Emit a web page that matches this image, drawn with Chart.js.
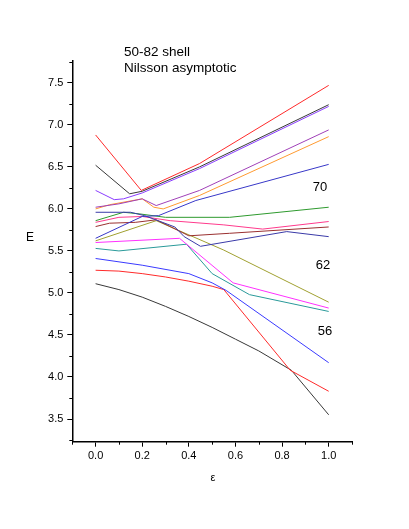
<!DOCTYPE html>
<html lang="en">
<head>
  <meta charset="UTF-8" />
  <title>50-82 shell | Nilsson asymptotic</title>
  <script src="https://cdn.jsdelivr.net/npm/chart.js"></script>
  <style>
    html, body { margin: 0; padding: 0; background: #fff; }
    canvas { display: block; }
  </style>
</head>
<body>
  <canvas id="nilssonChart" width="409" height="529"></canvas>

  <script>
    // single-particle levels, [eps, E] at the kinks
    const redTop   = [[0, 6.88], [0.196, 6.22], [0.446, 6.54], [1, 7.47]];
    const grayTop  = [[0, 6.52], [0.146, 6.18], [0.2, 6.21], [0.446, 6.50], [1, 7.24]];
    const violet   = [[0, 6.22], [0.08, 6.11], [0.12, 6.12], [0.2, 6.19], [0.446, 6.48], [1, 7.22]];
    const purple   = [[0, 6.02], [0.1, 6.06], [0.2, 6.12], [0.26, 6.04], [0.446, 6.22], [1, 6.94]];
    const orange   = [[0, 6.00], [0.06, 6.05], [0.2, 6.12], [0.25, 6.02], [0.29, 6.00], [0.446, 6.16], [1, 6.86]];
    const blueUp   = [[0, 5.65], [0.2, 5.91], [0.27, 5.92], [0.43, 6.10], [1, 6.53]];
    const navy     = [[0, 5.96], [0.15, 5.96], [0.21, 5.92], [0.34, 5.785], [0.38, 5.67], [0.45, 5.555], [0.82, 5.73], [1, 5.67]];
    const green    = [[0, 5.86], [0.12, 5.96], [0.19, 5.94], [0.3, 5.90], [0.575, 5.90], [1, 6.02]];
    const pink     = [[0, 5.84], [0.1, 5.90], [0.2, 5.91], [0.32, 5.86], [0.55, 5.81], [0.717, 5.76], [1, 5.85]];
    const brown    = [[0, 5.79], [0.06, 5.83], [0.17, 5.84], [0.26, 5.87], [0.32, 5.79], [0.4, 5.68], [0.575, 5.71], [1, 5.785]];
    const olive    = [[0, 5.62], [0.26, 5.86], [0.55, 5.51], [1, 4.89]];
    const magenta  = [[0, 5.60], [0.36, 5.65], [0.59, 5.12], [1, 4.82]];
    const teal     = [[0, 5.53], [0.1, 5.50], [0.39, 5.58], [0.5, 5.23], [0.66, 4.98], [1, 4.78]];
    const blueLow  = [[0, 5.41], [0.2, 5.33], [0.4, 5.23], [0.5, 5.12], [0.56, 5.03], [1, 4.17]];
    const redLow   = [[0, 5.27], [0.1, 5.26], [0.2, 5.23], [0.3, 5.19], [0.4, 5.14], [0.5, 5.08], [0.55, 5.04], [0.835, 4.08], [1, 3.83]];
    const grayLow  = [[0, 5.11], [0.1, 5.04], [0.2, 4.95], [0.3, 4.84], [0.4, 4.72], [0.5, 4.59], [0.6, 4.45], [0.7, 4.31], [0.84, 4.08], [1, 3.55]];

    // axis ticks
    const xMajor = [0, 0.2, 0.4, 0.6, 0.8, 1.0];
    const xMinor = [-0.1, 0.1, 0.3, 0.5, 0.7, 0.9, 1.1];
    const yMajor = [3.5, 4.0, 4.5, 5.0, 5.5, 6.0, 6.5, 7.0, 7.5];
    const yMinor = [3.25, 3.75, 4.25, 4.75, 5.25, 5.75, 6.25, 6.75, 7.25, 7.75];

    const levels = [
      [redTop, '#ff2a2a'], [grayTop, '#383838'], [violet, '#8a3cff'], [purple, '#a040b8'],
      [orange, '#ff9a30'], [blueUp, '#3838c8'], [navy, '#3a3aa8'], [green, '#2e9a2e'],
      [pink, '#ff3a8c'], [brown, '#9a3030'], [olive, '#a0a030'], [magenta, '#ff30ff'],
      [teal, '#2a9a9a'], [blueLow, '#3a3aff'], [redLow, '#ff2a2a'], [grayLow, '#383838']
    ];

    const FONT = '"Liberation Sans", Arial, sans-serif';

    // minor ticks + free text
    const extras = {
      id: 'extras',
      afterDraw(chart) {
        const ctx = chart.ctx;
        const xs = chart.scales.x, ys = chart.scales.y;
        ctx.save();
        ctx.strokeStyle = '#000';
        ctx.lineWidth = 1;
        ctx.beginPath();
        xMinor.forEach(v => {
          const px = Math.round(xs.getPixelForValue(v)) + 0.5;
          ctx.moveTo(px, ys.bottom); ctx.lineTo(px, ys.bottom + 3);
        });
        yMinor.forEach(v => {
          const py = Math.round(ys.getPixelForValue(v)) + 0.5;
          ctx.moveTo(xs.left, py); ctx.lineTo(xs.left - 3, py);
        });
        ctx.stroke();

        ctx.fillStyle = '#000';
        ctx.textBaseline = 'middle';
        ctx.textAlign = 'left';
        ctx.font = '13.5px ' + FONT;
        ctx.fillText('50-82 shell', 124, 52);
        ctx.fillText('Nilsson asymptotic', 124, 68);

        ctx.textAlign = 'center';
        ctx.font = '13px ' + FONT;
        ctx.fillText('70', 320, 187);
        ctx.fillText('62', 323, 265);
        ctx.fillText('56', 325, 331);

        ctx.font = '12px ' + FONT;
        ctx.fillText('E', 30, 238);
        ctx.font = '11px ' + FONT;
        ctx.fillText('ε', 213, 478);
        ctx.restore();
      }
    };

    new Chart(document.getElementById('nilssonChart'), {
      type: 'line',
      data: {
        datasets: levels.map(([pts, col]) => ({
          data: pts.map(p => ({ x: p[0], y: p[1] })),
          borderColor: col,
          borderWidth: 1,
          pointRadius: 0,
          tension: 0,
          fill: false
        }))
      },
      options: {
        responsive: false,
        animation: false,
        layout: { padding: { left: 0, top: 61, right: 57, bottom: 0 } },
        plugins: { legend: { display: false }, tooltip: { enabled: false } },
        scales: {
          x: {
            type: 'linear',
            min: -0.1,
            max: 1.1,
            afterBuildTicks: s => { s.ticks = xMajor.map(v => ({ value: v })); },
            afterFit: s => { s.height = 87.3; },
            ticks: {
              color: '#000',
              font: { family: FONT, size: 11 },
              padding: 3,
              maxRotation: 0,
              callback: v => v.toFixed(1)
            },
            grid: { drawOnChartArea: false, drawTicks: true, tickLength: 5, color: '#000' },
            border: { display: true, color: '#000', width: 1.5 }
          },
          y: {
            type: 'linear',
            min: 3.23,
            max: 7.76,
            afterBuildTicks: s => { s.ticks = yMajor.map(v => ({ value: v })); },
            afterFit: s => { s.width = 72.3; },
            ticks: {
              color: '#000',
              font: { family: FONT, size: 11 },
              padding: 4,
              callback: v => v.toFixed(1)
            },
            grid: { drawOnChartArea: false, drawTicks: true, tickLength: 5, color: '#000' },
            border: { display: true, color: '#000', width: 1.5 }
          }
        }
      },
      plugins: [extras]
    });
  </script>
</body>
</html>
